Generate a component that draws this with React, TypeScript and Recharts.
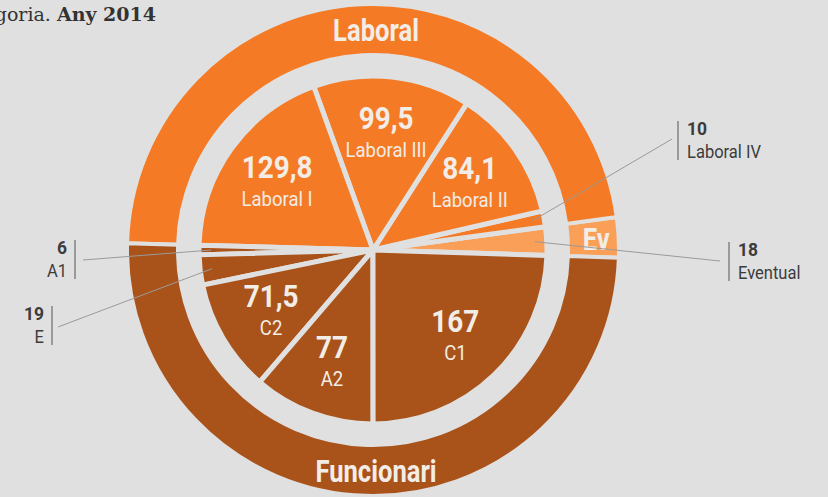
import { PieChart, Pie, Cell } from 'recharts';

// Inner slices, counter-clockwise from 3 o'clock
const innerNames = ['Eventual', 'Laboral IV', 'Laboral II', 'Laboral III', 'Laboral I', 'A1', 'E', 'C2', 'A2', 'C1'];
const innerValues = [18, 10, 84.1, 99.5, 129.8, 6, 19, 71.5, 77, 167];
const innerGroups = ['Ev', 'Laboral', 'Laboral', 'Laboral', 'Laboral', 'Funcionari', 'Funcionari', 'Funcionari', 'Funcionari', 'Funcionari'];

const outerNames = ['Ev', 'Laboral', 'Funcionari'];

const BG = '#e0e0e0';
const TEXT_LIGHT = '#f2ede6';
const TEXT_DARK = '#3c3c3c';
const SANS = "Roboto, 'DejaVu Sans', sans-serif";

const groupColors: Record<string, string> = {
  Ev: '#f99f58',
  Laboral: '#f57a25',
  Funcionari: '#a9531b',
};

// where the small slices get their callouts
const callouts: Record<string, { lx: number; ly: number; bar: number; side: 'left' | 'right'; top: number }> = {
  'Laboral IV': { lx: 672, ly: 139, bar: 678, side: 'right', top: 121 },
  Eventual: { lx: 720, ly: 261, bar: 729, side: 'right', top: 242 },
  A1: { lx: 83, ly: 260, bar: 75, side: 'left', top: 240 },
  E: { lx: 58, ly: 327, bar: 52, side: 'left', top: 306 },
};

const innerData = innerNames.map((name, i) => ({ name, value: innerValues[i], group: innerGroups[i] }));
const outerData = outerNames.map((name) => ({
  name,
  value: innerData.filter((d) => d.group === name).reduce((s, d) => s + d.value, 0),
}));

const RADIAN = Math.PI / 180;
const fmt = (v: number) => String(v).replace('.', ',');

// condensed-looking text: squeeze horizontally around the anchor point
function NarrowText({ x, y, size, squeeze, bold, fill, anchor = 'middle', children }: any) {
  return (
    <text
      transform={`translate(${x} ${y}) scale(${squeeze} 1)`}
      x={0}
      y={0}
      textAnchor={anchor}
      fill={fill}
      fontFamily={SANS}
      fontWeight={bold ? 700 : 400}
      fontSize={size}
    >
      {children}
    </text>
  );
}

function InnerLabel(props: any) {
  const { cx, cy, midAngle, outerRadius, index } = props;
  const name = innerNames[index];
  const value = innerValues[index];
  const c = callouts[name];
  if (c) {
    const r = outerRadius - 12;
    const sx = cx + r * Math.cos(-midAngle * RADIAN);
    const sy = cy + r * Math.sin(-midAngle * RADIAN);
    const tx = c.side === 'right' ? c.bar + 9 : c.bar - 8;
    const anchor = c.side === 'right' ? 'start' : 'end';
    return (
      <g>
        <line x1={sx} y1={sy} x2={c.lx} y2={c.ly} stroke="#9a9a9a" strokeWidth={1} />
        <line x1={c.bar} y1={c.top} x2={c.bar} y2={c.top + 39} stroke="#555" strokeWidth={1} />
        <NarrowText x={tx} y={c.top + 14} size={19} squeeze={0.92} bold fill={TEXT_DARK} anchor={anchor}>
          {fmt(value)}
        </NarrowText>
        <NarrowText x={tx} y={c.top + 37} size={19} squeeze={0.87} fill={TEXT_DARK} anchor={anchor}>
          {name}
        </NarrowText>
      </g>
    );
  }
  const r = outerRadius * 0.68;
  const x = cx + r * Math.cos(-midAngle * RADIAN);
  const y = cy + r * Math.sin(-midAngle * RADIAN);
  return (
    <g>
      <NarrowText x={x} y={y - 3} size={31} squeeze={0.9} bold fill={TEXT_LIGHT}>
        {fmt(value)}
      </NarrowText>
      <NarrowText x={x} y={y + 25} size={21} squeeze={0.88} fill={TEXT_LIGHT}>
        {name}
      </NarrowText>
    </g>
  );
}

function OuterLabel(props: any) {
  const { cx, cy, midAngle, innerRadius, outerRadius, index } = props;
  const r = (innerRadius + outerRadius) / 2;
  // the two big halves carry their titles on the vertical axis
  const angle = outerNames[index] === 'Ev' ? midAngle : midAngle < 180 ? 90 : 270;
  const x = cx + 3 + r * Math.cos(-angle * RADIAN);
  const y = cy + r * Math.sin(-angle * RADIAN);
  return (
    <NarrowText x={x} y={y + 11} size={32} squeeze={0.8} bold fill={TEXT_LIGHT}>
      {outerNames[index]}
    </NarrowText>
  );
}

export default function App() {
  return (
    <div style={{ position: 'absolute', left: 0, top: 0, width: 828, height: 497, background: BG, overflow: 'hidden' }}>
      <PieChart width={828} height={497} margin={{ top: 0, right: 0, bottom: 0, left: 0 }}>
        <Pie
          data={outerData}
          dataKey="value"
          cx={373}
          cy={250}
          innerRadius={195}
          outerRadius={246}
          startAngle={-1.8}
          endAngle={358.2}
          stroke={BG}
          strokeWidth={4}
          label={OuterLabel}
          labelLine={false}
          isAnimationActive={false}
        >
          {outerData.map((d) => (
            <Cell key={d.name} fill={groupColors[d.name]} />
          ))}
        </Pie>
        <Pie
          data={innerData}
          dataKey="value"
          cx={373}
          cy={250}
          innerRadius={0}
          outerRadius={174}
          startAngle={-1.8}
          endAngle={358.2}
          stroke={BG}
          strokeWidth={5}
          label={InnerLabel}
          labelLine={false}
          isAnimationActive={false}
        >
          {innerData.map((d) => (
            <Cell key={d.name} fill={groupColors[d.group]} />
          ))}
        </Pie>
      </PieChart>
      <svg width={828} height={40} style={{ position: 'absolute', left: 0, top: 0 }}>
        <text x={156} y={21} textAnchor="end" fontFamily="'DejaVu Serif', serif" fontSize={19} fill="#333">
          <tspan>categoria. </tspan>
          <tspan fontWeight={700}>Any 2014</tspan>
        </text>
      </svg>
    </div>
  );
}
